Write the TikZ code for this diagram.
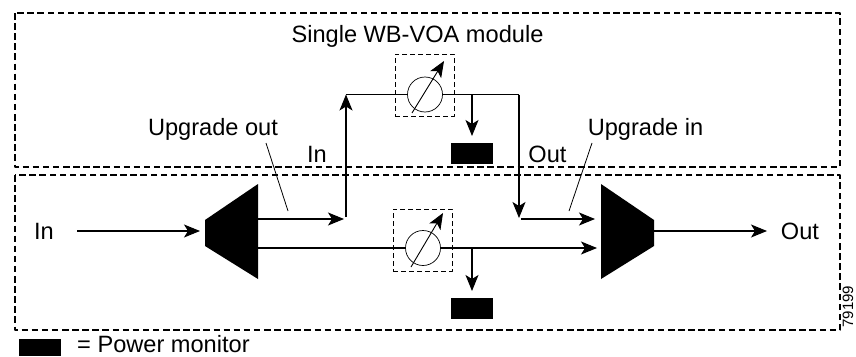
\documentclass[tikz,border=0pt]{standalone}
\usepackage{fontspec}
\setmainfont{Liberation Sans}
\usetikzlibrary{arrows.meta}
\begin{document}
\begin{tikzpicture}[x=1pt,y=-1pt,>={Stealth[length=16pt,width=13pt,inset=4pt]},line join=bevel,
  every node/.style={inner sep=0pt},
  labeltext/.style={font=\fontsize{23.6}{26}\selectfont,anchor=base},
  frame/.style={draw,line width=1.2pt,dash pattern=on 6.5pt off 3.6pt},
  voabox/.style={draw,line width=0.7pt,dash pattern=on 5pt off 3pt,minimum width=59pt,minimum height=62pt},
  dial/.style={draw,circle,line width=0.7pt,minimum size=35pt},
  monitor/.style={fill=black,minimum width=42pt,minimum height=21pt},
  fiber/.style={line width=1.1pt},
  needle/.style={line width=0.9pt},
  leader/.style={line width=0.8pt}]
\useasboundingbox (0,0) rectangle (856,356);
%%
\draw [frame] (15,13) rectangle (840,167);
\draw [frame] (15,175) rectangle (840,330);
%%
\node (title) at (417.5,42.5) [labeltext] {Single WB-VOA module};
\node (upout) at (213,135) [labeltext] {Upgrade out};
\node (upin) at (645.5,135) [labeltext] {Upgrade in};
\node (modin) at (317,162) [labeltext] {In};
\node (modout) at (547.5,162) [labeltext] {Out};
\node (in_l) at (44,239) [labeltext] {In};
\node (out_r) at (800,239) [labeltext] {Out};
%%
\fill [black] (205,220) -- (258,184) -- (258,279) -- (205,246) -- cycle;
\fill [black] (601,184) -- (654,220) -- (654,246) -- (601,279) -- cycle;
\coordinate (in_start) at (77,231);
\coordinate (mux_in) at (200,231);
\coordinate (mux_a) at (258,219);
\coordinate (mux_b) at (258,248);
\coordinate (dem_a) at (595,219);
\coordinate (dem_b) at (597,248);
\coordinate (dem_out) at (654,231);
\coordinate (out_end) at (767,231);
\coordinate (up_tip) at (344,219);
\coordinate (up_foot) at (346,217);
\coordinate (up_top) at (346,94.5);
\coordinate (tap_t) at (472,94.5);
\coordinate (tap_b) at (472,248);
\coordinate (stop_t) at (472,136);
\coordinate (stop_b) at (472,291);
\coordinate (down_top) at (519,94.5);
\coordinate (down_tip) at (519,218);
\coordinate (back_in) at (521,219);
%%
\node (voa_t) at (424.5,85) [voabox] {};
\node (voa_b) at (422.5,240) [voabox] {};
\node (dial_t) at (425,94.5) [dial] {};
\node (dial_b) at (423,248) [dial] {};
\coordinate (ndl_t0) at (412,113);
\coordinate (ndl_t1) at (444,61);
\coordinate (ndl_b0) at (411,267);
\coordinate (ndl_b1) at (443,213);
\draw [needle,->] (ndl_t0) -- (ndl_t1);
\draw [needle,->] (ndl_b0) -- (ndl_b1);
\node (pm_t) at (472,153.5) [monitor] {};
\node (pm_b) at (472,308.5) [monitor] {};
\node (pm_key) at (40,347.5) [monitor,minimum height=17pt] {};
\node (key) at (77,352) [anchor=base west,font=\fontsize{23.6}{26}\selectfont] {= Power monitor};
\node (tag) at (848,306.5) [rotate=90,font=\fontsize{15}{17}\selectfont] {79199};
%%
\draw [fiber,->] (in_start) -- (mux_in);
\draw [fiber,->] (mux_a) -- (up_tip);
\draw [fiber,->] (up_foot) -- (up_top);
\draw [fiber] (up_top) -- (dial_t.west);
\draw [fiber] (dial_t.east) -- (down_top);
\draw [fiber,->] (down_top) -- (down_tip);
\draw [fiber,->] (tap_t) -- (stop_t);
\draw [fiber,->] (back_in) -- (dem_a);
\draw [fiber] (mux_b) -- (dial_b.west);
\draw [fiber,->] (dial_b.east) -- (dem_b);
\draw [fiber,->] (tap_b) -- (stop_b);
\draw [fiber,->] (dem_out) -- (out_end);
\coordinate (ldr_a0) at (266,143);
\coordinate (ldr_a1) at (288,211);
\coordinate (ldr_b0) at (592,143);
\coordinate (ldr_b1) at (569,211);
\draw [leader] (ldr_a0) -- (ldr_a1);
\draw [leader] (ldr_b0) -- (ldr_b1);
%
\end{tikzpicture}
\end{document}
